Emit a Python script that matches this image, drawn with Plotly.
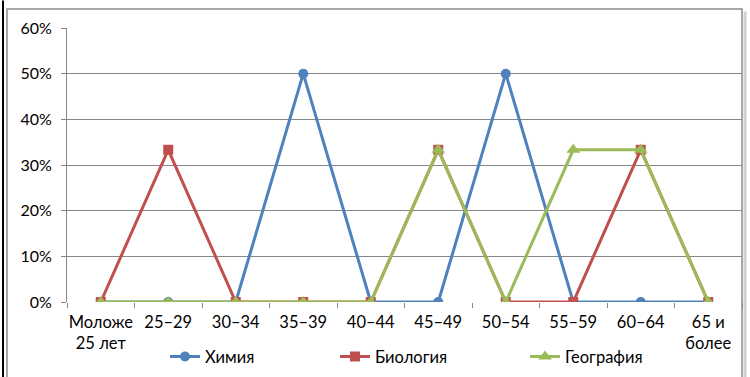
import plotly.graph_objects as go

categories = ["Моложе<br>25 лет", "25–29", "30–34", "35–39", "40–44",
              "45–49", "50–54", "55–59", "60–64", "65 и<br>более"]
himiya = [0, 0, 0, 0.5, 0, 0, 0.5, 0, 0, 0]
biologiya = [0, 1/3, 0, 0, 0, 1/3, 0, 0, 1/3, 0]
geografiya = [0, 0, 0, 0, 0, 1/3, 0, 1/3, 1/3, 0]
y_ticks = [0, 0.1, 0.2, 0.3, 0.4, 0.5, 0.6]

FONT = "Lato, 'Open Sans', sans-serif"

fig = go.Figure()
series = [
    ("Химия", himiya, "#4F81BD", "circle", 10, "legend"),
    ("Биология", biologiya, "#C0504D", "square", 10, "legend2"),
    ("География", geografiya, "#9BBB59", "triangle-up", 12, "legend3"),
]
for name, vals, col, sym, sz, lg in series:
    fig.add_trace(go.Scatter(
        x=categories, y=vals, name=name, mode="lines+markers",
        line=dict(color=col, width=3),
        marker=dict(symbol=sym, size=sz, color=col),
        legend=lg,
    ))

def leg(x):
    return dict(orientation="h", x=x, xanchor="left", y=-0.2, yanchor="middle",
                font=dict(size=16.5), itemwidth=30, bgcolor="rgba(0,0,0,0)")

fig.update_layout(
    width=750, height=377,
    margin=dict(l=67, r=8, t=28, b=75, autoexpand=False),
    paper_bgcolor="white", plot_bgcolor="white",
    font=dict(family=FONT, size=16, color="#000000"),
    showlegend=True,
    legend=leg((165 - 67) / 675),
    legend2=leg((335 - 67) / 675),
    legend3=leg((525 - 67) / 675),
    xaxis=dict(type="category", range=[-0.5, 9.5], tickson="boundaries",
               ticks="outside", ticklen=5, tickcolor="#868686", showgrid=False,
               showline=False, zeroline=False, automargin=False, tickangle=0,
               ticklabelstandoff=8, tickfont=dict(size=16.5)),
    yaxis=dict(range=[0, 0.6], tickvals=y_ticks, tickformat=".0%", showgrid=True,
               gridcolor="#868686", gridwidth=1, showline=True, linecolor="#868686",
               ticks="outside", ticklen=5, tickcolor="#868686", zeroline=False,
               automargin=False, ticklabelstandoff=6, tickfont=dict(size=16)),
    shapes=[
        dict(type="rect", xref="paper", yref="paper", x0=-0.0889, x1=1.0,
             y0=-0.3, y1=1.0693, line=dict(color="#8c8c8c", width=1.5)),
        dict(type="line", xref="paper", yref="paper", x0=1.0045, x1=1.0045,
             y0=-0.3, y1=1.06, line=dict(color="#d0d0d0", width=3)),
        dict(type="line", xref="paper", yref="paper", x0=-0.0948, x1=-0.0948,
             y0=-0.3, y1=1.1, line=dict(color="#000000", width=2)),
    ],
)

fig.write_html("out.html", config={"displayModeBar": False},
               post_script="document.body.style.margin='0';")
